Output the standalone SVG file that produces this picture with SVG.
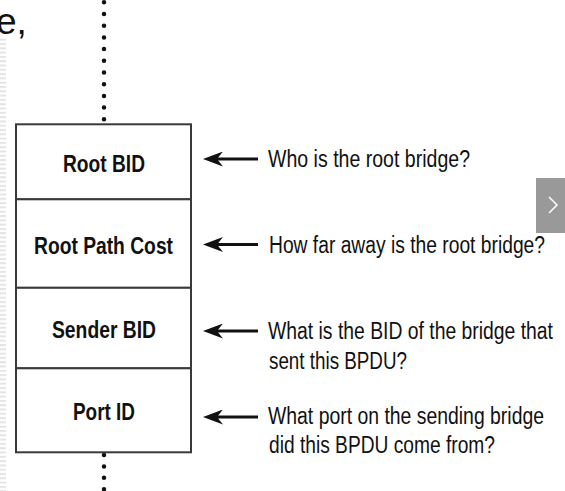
<svg xmlns="http://www.w3.org/2000/svg" width="565" height="491" viewBox="0 0 565 491">
  <defs>
    <pattern id="stripes" x="0" y="0" width="6" height="4.3" patternUnits="userSpaceOnUse">
      <rect x="0" y="0" width="6" height="2" fill="#e4e4e4"/>
    </pattern>
    <marker id="head" viewBox="0 0 20 15" refX="14" refY="7.5" markerWidth="20" markerHeight="15" markerUnits="userSpaceOnUse" orient="auto">
      <path d="M0,0 L20,7.5 L0,15 L6,7.5 Z" fill="#111"/>
    </marker>
    <style>
      .field { fill: #fff; stroke: #3a3a3a; stroke-width: 2; }
      .lbl { font-family: "Liberation Sans", Arial, sans-serif; font-weight: bold; font-size: 23.5px; fill: #111; text-anchor: middle; }
      .note { font-family: "Liberation Sans", Arial, sans-serif; font-size: 23.5px; fill: #111; }
      .arrow { stroke: #111; stroke-width: 3; fill: none; marker-end: url(#head); }
      .dots { stroke: #111; stroke-width: 4.5; stroke-linecap: round; fill: none; }
    </style>
  </defs>

  <rect width="565" height="491" fill="#fff"/>
  <rect x="0" y="38" width="6" height="453" fill="url(#stripes)"/>

  <text x="-4" y="34" font-family="'Liberation Sans', Arial, sans-serif" font-size="37" fill="#111">e,</text>

  <g id="dots">
    <path class="dots" d="M104,119.3 L104,0" stroke-dasharray="0 11.7"/>
    <path class="dots" d="M104,455 L104,491" stroke-dasharray="0 11.4"/>
  </g>

  <g id="root-bid">
    <rect class="field" x="16" y="124.3" width="175" height="75"/>
    <text class="lbl" x="104" y="172" textLength="82" lengthAdjust="spacingAndGlyphs">Root BID</text>
  </g>
  <g id="root-path-cost">
    <rect class="field" x="16" y="199.3" width="175" height="88.5"/>
    <text class="lbl" x="103.5" y="254" textLength="139" lengthAdjust="spacingAndGlyphs">Root Path Cost</text>
  </g>
  <g id="sender-bid">
    <rect class="field" x="16" y="287.8" width="175" height="80.5"/>
    <text class="lbl" x="104" y="338" textLength="104" lengthAdjust="spacingAndGlyphs">Sender BID</text>
  </g>
  <g id="port-id">
    <rect class="field" x="16" y="368.3" width="175" height="84"/>
    <text class="lbl" x="104" y="420" textLength="62" lengthAdjust="spacingAndGlyphs">Port ID</text>
  </g>

  <g id="connectors">
    <line class="arrow" x1="258" y1="159" x2="209" y2="159"/>
    <line class="arrow" x1="258" y1="244.5" x2="209" y2="244.5"/>
    <line class="arrow" x1="258" y1="331" x2="209" y2="331"/>
    <line class="arrow" x1="258" y1="417" x2="209" y2="417"/>
  </g>

  <g id="note-root-bid">
    <text class="note" x="268" y="167" textLength="202" lengthAdjust="spacingAndGlyphs">Who is the root bridge?</text>
  </g>
  <g id="note-root-path-cost">
    <text class="note" x="269" y="253" textLength="276" lengthAdjust="spacingAndGlyphs">How far away is the root bridge?</text>
  </g>
  <g id="note-sender-bid">
    <text class="note" x="268" y="339" textLength="285" lengthAdjust="spacingAndGlyphs">What is the BID of the bridge that</text>
    <text class="note" x="269" y="369" textLength="138" lengthAdjust="spacingAndGlyphs">sent this BPDU?</text>
  </g>
  <g id="note-port-id">
    <text class="note" x="268" y="424" textLength="276" lengthAdjust="spacingAndGlyphs">What port on the sending bridge</text>
    <text class="note" x="269" y="453" textLength="226" lengthAdjust="spacingAndGlyphs">did this BPDU come from?</text>
  </g>

  <g id="next-button">
    <rect x="536" y="178" width="29" height="55" fill="#999"/>
    <path d="M549,197 L557,205 L549,213" fill="none" stroke="#fff" stroke-width="1.5"/>
  </g>
</svg>
